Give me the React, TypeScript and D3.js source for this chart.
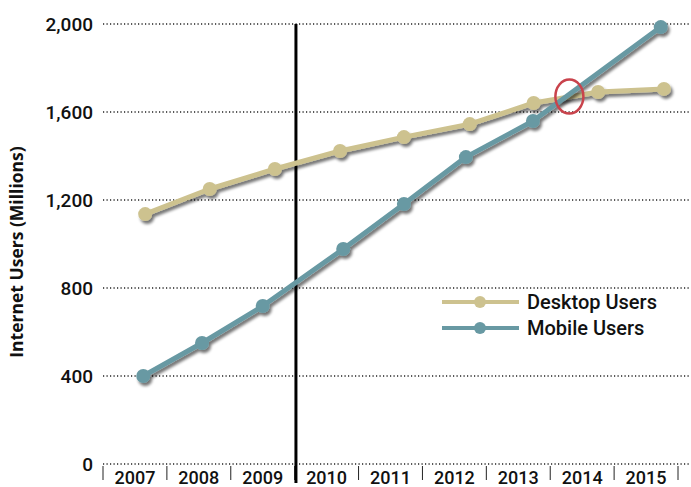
import React from "react";
import * as d3 from "d3";

const years = ["2007", "2008", "2009", "2010", "2011", "2012", "2013", "2014", "2015"];
const yTicks = [0, 400, 800, 1200, 1600, 2000];
// x position as fractional years since start of 2007
const desktopX = [0.66, 1.67, 2.69, 3.71, 4.71, 5.74, 6.74, 7.75, 8.78];
const desktopY = [1136, 1250, 1341, 1423, 1486, 1545, 1641, 1691, 1705];
const mobileX = [0.63, 1.55, 2.5, 3.76, 4.71, 5.68, 6.73, 8.73];
const mobileY = [400, 550, 718, 977, 1182, 1395, 1559, 1986];
const markerX = 3.02;
const crossX = 7.3;
const crossY = 1670;

const W = 691;
const H = 487;
const left = 103;
const right = 678;
const top = 24;
const bottom = 464;

const desktopColor = "#cdc28f";
const mobileColor = "#6899a3";
const font = "Roboto, 'DejaVu Sans', sans-serif";

export default function App() {
  const x = d3.scaleLinear().domain([0, years.length]).range([left, right]);
  const y = d3.scaleLinear().domain([0, 2000]).range([bottom, top]);
  const line = d3
    .line<[number, number]>()
    .x((d) => x(d[0]))
    .y((d) => y(d[1]));
  const desktop: [number, number][] = desktopX.map((v, i) => [v, desktopY[i]]);
  const mobile: [number, number][] = mobileX.map((v, i) => [v, mobileY[i]]);

  const series = [
    { data: desktop, color: desktopColor },
    { data: mobile, color: mobileColor },
  ];

  return (
    <svg
      width={W}
      height={H}
      style={{ position: "absolute", left: 0, top: 0, background: "#fff" }}
    >
      <defs>
        <filter id="shadow" x="-10%" y="-10%" width="130%" height="130%">
          <feGaussianBlur in="SourceAlpha" stdDeviation="1.5" />
          <feOffset dx="2" dy="2.5" result="b" />
          <feComponentTransfer>
            <feFuncA type="linear" slope="0.55" />
          </feComponentTransfer>
          <feMerge>
            <feMergeNode />
            <feMergeNode in="SourceGraphic" />
          </feMerge>
        </filter>
      </defs>
      {/* gridlines */}
      {yTicks.map((t) => (
        <line
          key={t}
          x1={left}
          x2={W}
          y1={y(t)}
          y2={y(t)}
          stroke="#222"
          strokeWidth={1.3}
          strokeDasharray="1.2,2.3"
        />
      ))}
      {/* y tick labels */}
      {yTicks.map((t) => (
        <text
          key={t}
          x={93}
          y={y(t) + 7}
          textAnchor="end"
          fontFamily={font}
          fontWeight={500}
          fontSize={19}
          fill="#111"
        >
          {d3.format(",")(t)}
        </text>
      ))}
      {/* x ticks */}
      {d3.range(years.length + 1).map((i) => (
        <line
          key={i}
          x1={x(i)}
          x2={x(i)}
          y1={bottom + 2}
          y2={bottom + 16}
          stroke="#222"
          strokeWidth={1}
        />
      ))}
      {years.map((yr, i) => (
        <text
          key={yr}
          x={x(i + 0.5)}
          y={484}
          textAnchor="middle"
          fontFamily={font}
          fontWeight={500}
          fontSize={18}
          fill="#111"
        >
          {yr}
        </text>
      ))}
      {/* y axis title */}
      <text
        transform={`translate(23,252) rotate(-90)`}
        textAnchor="middle"
        fontFamily="'Open Sans', sans-serif"
        fontWeight="bold"
        fontSize={17.5}
        fill="#111"
      >
        Internet Users (Millions)
      </text>
      {/* vertical marker */}
      <line
        x1={x(markerX)}
        x2={x(markerX)}
        y1={y(2000)}
        y2={483}
        stroke="#000"
        strokeWidth={3}
      />
      {/* series */}
      {series.map((s, k) => (
        <g key={k} filter="url(#shadow)">
          <path
            d={line(s.data) || ""}
            fill="none"
            stroke={s.color}
            strokeWidth={5}
            strokeLinejoin="round"
          />
          {s.data.map((d, i) => (
            <circle key={i} cx={x(d[0])} cy={y(d[1])} r={7} fill={s.color} />
          ))}
        </g>
      ))}
      {/* crossover ellipse */}
      <ellipse
        cx={x(crossX)}
        cy={y(crossY)}
        rx={14}
        ry={17}
        fill="none"
        stroke="#c9434c"
        strokeWidth={2.5}
      />
      {/* legend */}
      {[
        { label: "Desktop Users", color: desktopColor, ly: 302 },
        { label: "Mobile Users", color: mobileColor, ly: 328 },
      ].map((l) => (
        <g key={l.label}>
          <line x1={442} x2={519} y1={l.ly} y2={l.ly} stroke={l.color} strokeWidth={4} />
          <circle cx={480} cy={l.ly} r={6} fill={l.color} />
          <text
            x={527}
            y={l.ly + 7}
            fontFamily={font}
            fontWeight={500}
            fontSize={20}
            fill="#111"
          >
            {l.label}
          </text>
        </g>
      ))}
    </svg>
  );
}
